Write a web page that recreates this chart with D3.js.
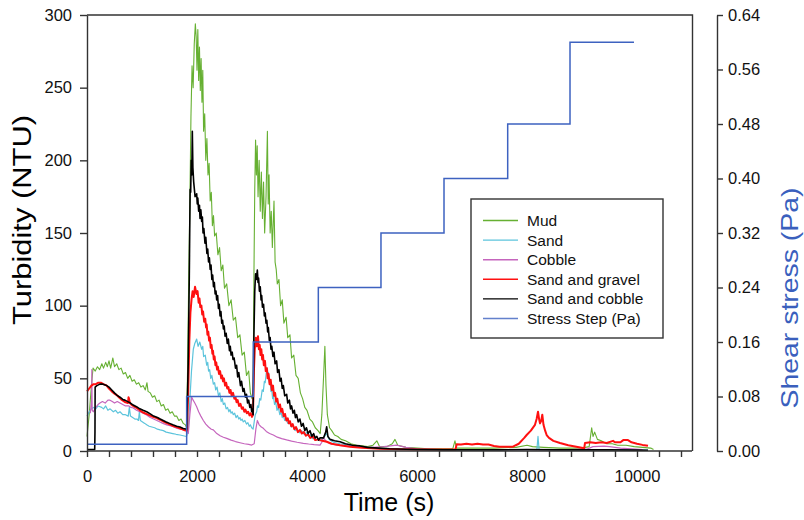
<!DOCTYPE html>
<html>
<head>
<meta charset="utf-8">
<script src="https://cdn.jsdelivr.net/npm/d3@7"></script>
<style>
  body { margin: 0; background: #fff; }
  text { font-family: "Liberation Sans", Arial, sans-serif; }
</style>
</head>
<body>
<svg id="chart" width="804" height="520"></svg>
<script>
// turbidity series, [time (s), NTU]
const mud = [[0,10],[40,25],[80,45],[110,57],[150,55],[190,58],[230,56],[270,60],[300,57],[340,61],[370,58],[400,62],[430,57],[470,64],[500,58],[540,60],[580,56],[620,57],[660,53],[700,54],[740,50],[780,52],[820,48],[860,49],[900,46],[940,47],[980,44],[1020,45],[1060,42],[1090,47],[1110,41],[1150,40],[1190,37],[1230,38],[1270,34],[1310,35],[1350,31],[1390,32],[1430,28],[1470,29],[1510,26],[1550,27],[1590,24],[1630,24],[1670,21],[1710,22],[1750,19],[1790,18],[1812,16],
  [1830,60],[1850,120],[1870,170],[1890,230],[1910,265],[1930,250],[1950,280],[1970,294],[1985,285],[2000,262],[2015,290],[2030,255],[2045,278],[2060,248],[2075,270],[2090,240],[2105,262],[2120,220],[2140,232],[2160,200],[2180,215],[2200,190],[2220,198],[2240,172],[2260,178],[2280,155],[2300,162],[2320,148],[2350,150],[2380,135],[2410,140],[2440,124],[2470,128],[2500,112],[2540,115],[2580,100],[2620,104],[2660,90],[2700,92],[2740,78],[2780,80],[2820,66],[2860,68],[2900,52],[2940,55],[2970,40],[3000,36],[3020,38],
  [3035,120],[3050,180],[3065,214],[3080,190],[3095,210],[3110,175],[3130,200],[3150,165],[3170,192],[3190,160],[3210,185],[3230,150],[3255,175],[3280,220],[3295,170],[3310,190],[3330,150],[3350,165],[3370,140],[3400,172],[3420,130],[3440,125],[3460,115],[3490,118],[3520,100],[3550,104],[3580,88],[3620,92],[3650,78],[3690,80],[3720,64],[3760,66],[3800,52],[3840,50],[3880,40],[3920,36],[3960,30],[4000,28],[4050,22],[4100,20],[4150,16],[4200,14],[4240,12],[4270,25],[4300,50],[4325,72],[4345,45],[4370,25],[4410,16],[4450,14],[4500,11],[4560,10],[4620,8],[4700,7],[4800,5],[4900,4],[5000,3.5],[5100,3],[5200,4],[5270,7],[5320,3],[5450,3],[5550,5],[5600,8],[5650,4],[5800,2.5],[6000,2],[6200,1.5],[6400,1.5],[6650,1.5],[6690,7],[6720,2],[7000,2],[7400,2],[7800,2.5],[8000,4],[8100,3],[8300,2.5],[8600,2],[9000,2],[9130,3],[9176,16],[9200,10],[9230,13],[9280,8],[9350,7],[9450,5],[9550,5],[9650,4],[9800,4],[9950,3],[10100,2.5],[10250,2],[10300,1]];

const sand = [[0,24],[40,27],[80,29],[115,30],[160,29],[200,31],[267,30],[300,29],[340,31],[380,28],[420,29],[479,27],[520,28],[560,26],[600,27],[650,25],[700,25],[750,24],[770,30],[790,24],[830,23],[870,22],[910,22],[935,21],[952,27],[970,21],[1010,20],[1050,19],[1085,18],[1130,17],[1180,16.5],[1230,16],[1280,15],[1330,14.5],[1388,14],[1440,13],[1500,12.5],[1560,12],[1620,11.5],[1690,11],[1750,10.5],[1810,10],
  [1842,15],[1870,35],[1900,55],[1933,70],[1960,74],[1994,77],[2020,72],[2050,75],[2085,70],[2105,72],[2120,65],[2150,66],[2176,59],[2195,61],[2210,55],[2230,56],[2250,50],[2270,52],[2297,46],[2320,47],[2340,42],[2365,44],[2390,38],[2415,40],[2440,34],[2460,36],[2479,32],[2505,33],[2530,29],[2555,30],[2580,27],[2600,28.5],[2620,26],[2640,27],[2660,25],[2685,26],[2710,23],[2735,24.5],[2760,22],[2780,23],[2800,21],[2820,22],[2842,20],[2870,21],[2900,18.5],[2925,19.5],[2950,17],[2970,18],[2994,16],[3020,15],
  [3040,20],[3060,25],[3085,27],[3100,31],[3120,30],[3140,36],[3160,35],[3185,42],[3206,41],[3225,48],[3240,47],[3260,54],[3279,57],[3290,52],[3300,54],[3315,47],[3330,48],[3345,41],[3360,42],[3375,36],[3388,38],[3410,32],[3430,34],[3455,28],[3480,30],[3505,25],[3530,26.5],[3550,23],[3570,24.5],[3595,21],[3620,22],[3650,19],[3680,20],[3715,16.5],[3751,17.5],[3785,14],[3820,15.5],[3860,12.5],[3900,14],[3950,11.5],[3994,12.8],[4030,10],[4060,11],[4100,8.5],[4130,9.5],[4170,7.5],[4200,8.5],[4236,7],[4300,9],[4358,12],[4400,8],[4480,6],[4600,5],[4750,4],[4900,3],[5050,2.5],[5200,2],[5400,1.5],[5700,1.2],[6000,1],[6500,0.8],[7000,0.8],[7500,0.8],[8000,1],[8180,1],[8200,10],[8220,1],[8600,0.8],[9000,0.8],[9500,1],[10000,0.8],[10200,0.6]];

const cobble = [[60,26],[85,35],[88,56],[92,35],[95,28],[115,27],[160,30],[200,32],[236,33],[280,34],[330,33],[380,35],[418,35],[460,34],[500,33],[550,34],[600,33],[650,32],[700,31],[760,31],[800,30],[842,29.6],[900,28],[960,27],[1020,26],[1085,24.8],[1150,23],[1210,22],[1270,21],[1327,20],[1380,19],[1450,18],[1510,17.5],[1570,16.7],[1640,15.5],[1700,15],[1760,14.5],[1812,14],
  [1842,12],[1870,25],[1903,37],[1930,35],[1960,33],[1994,30.5],[2030,27],[2070,24],[2115,21],[2160,18.5],[2210,16.5],[2260,15],[2297,14.5],[2360,12],[2420,10.5],[2480,9.5],[2540,8.7],[2620,7.5],[2700,6.5],[2782,5.7],[2860,5],[2940,4.5],[2994,4.1],[3040,5],[3070,15],[3097,21],[3130,18],[3170,16.5],[3206,15.6],[3260,13.5],[3320,12],[3388,11],[3460,9.5],[3540,8.5],[3630,7.6],[3720,6.8],[3820,6],[3933,5.3],[4030,4.8],[4130,4.4],[4236,4.1],[4270,6],[4297,9.4],[4340,7],[4418,5],[4550,4],[4700,3.5],[4850,3],[5000,2.5],[5200,2.5],[5400,3],[5630,4],[5800,2.5],[6000,1.5],[6400,1],[6800,1],[7200,1],[7600,1],[8000,1],[8400,1],[8800,1],[9100,1.5],[9200,3],[9400,3.4],[9500,3],[9700,2],[9900,1.5],[10100,1]];

const sandGravel = [[0,41],[40,43],[80,45],[120,46],[160,46],[206,47],[250,47],[300,46],[358,45],[400,43],[450,41],[500,39.5],[540,38.5],[580,37],[620,35.5],[660,34.5],[700,33.5],[745,33],[755,37],[764,36],[780,33],[820,31.5],[860,30.5],[903,29.6],[960,28],[1020,26.5],[1080,25.5],[1140,24.5],[1200,23.5],[1267,22.7],[1330,21.5],[1400,20],[1460,19],[1520,18],[1580,17],[1630,16.5],[1700,15.5],[1760,14.5],[1818,14],
  [1840,40],[1860,75],[1880,95],[1900,104],[1920,110],[1940,106],[1964,113],[1990,108],[2010,110],[2030,102],[2045,105],[2060,99],[2080,100],[2095,94],[2110,96],[2130,89],[2150,91],[2165,85],[2176,87],[2190,80],[2205,82],[2220,76],[2235,78],[2250,71],[2265,73],[2280,67],[2291,69],[2305,63],[2320,65],[2335,59],[2350,61],[2365,56],[2380,58],[2400,53],[2420,55],[2440,50],[2455,52],[2473,48],[2490,50],[2510,45],[2530,47],[2550,43],[2570,44],[2590,40],[2610,42],[2630,38],[2655,40],[2680,36],[2700,37],[2720,33.5],[2740,35],[2765,31],[2790,32.5],[2815,29],[2836,30],[2860,27],[2880,28.5],[2905,26],[2930,27],[2955,24.5],[2975,26],[3000,23.5],[3018,25],
  [3035,55],[3050,70],[3070,78],[3090,72],[3109,79],[3125,70],[3140,73],[3155,66],[3170,70],[3185,63],[3200,66],[3215,59],[3236,62],[3250,55],[3270,57],[3285,50],[3300,53],[3320,46],[3340,49],[3360,42],[3382,45],[3400,38],[3420,40],[3440,34],[3460,36],[3485,30],[3509,32],[3530,27],[3550,29],[3575,24],[3600,25.5],[3625,21],[3650,22.5],[3670,19],[3690,20.5],[3715,17],[3740,18.5],[3770,15],[3800,16.5],[3835,13],[3873,14.5],[3905,12],[3940,13],[3980,10.5],[4020,11.5],[4060,9],[4109,10],[4150,7.5],[4200,8],[4280,7],[4358,6.4],[4450,5],[4600,4],[4780,3],[5000,2.3],[5330,1.5],[5700,1.2],[6000,1],[6400,1],[6700,1],[6721,4.6],[6800,4.5],[6900,5],[7000,4.5],[7100,5],[7200,4.5],[7300,4.5],[7400,3.5],[7500,3],[7745,3],[7850,5],[7950,9],[7994,11],[8070,14],[8145,18],[8175,22],[8200,27],[8220,22],[8236,19],[8260,21],[8278,25],[8300,18],[8330,14],[8357,11],[8400,9],[8480,7],[8600,5.5],[8750,4],[9018,2],[9040,2],[9055,5.5],[9150,6],[9250,5.5],[9350,6],[9450,5.5],[9564,7],[9600,6],[9700,6],[9750,7.5],[9836,7.5],[9900,6],[10000,5],[10100,4.2],[10200,3.6]];

const sandCobble = [[0,1],[60,1],[140,1],[145,13],[148,44],[180,45],[236,46],[290,46],[358,45],[400,44],[450,42],[500,40],[540,38.5],[600,37],[650,35.5],[690,35],[740,34],[790,33],[840,31.6],[900,30.5],[960,29],[1020,28],[1085,27],[1150,25.5],[1210,24],[1280,23],[1330,22],[1385,21],[1440,20],[1500,19],[1560,18],[1630,17],[1690,16.5],[1750,15.5],[1812,15],
  [1840,60],[1860,120],[1875,180],[1885,178],[1895,200],[1905,190],[1915,220],[1925,195],[1940,185],[1965,175],[1994,177],[2005,170],[2015,174],[2030,165],[2045,169],[2055,160],[2070,166],[2085,158],[2098,161],[2110,150],[2125,153],[2145,143],[2160,147],[2180,136],[2195,139],[2210,130],[2225,133],[2240,125],[2255,128],[2270,118],[2285,121],[2300,113],[2315,116],[2330,108],[2345,110],[2358,104],[2375,107],[2390,98],[2405,101],[2420,93],[2435,96],[2450,88],[2465,90],[2480,84],[2495,86],[2510,79],[2530,81],[2550,74],[2570,77],[2590,69],[2605,72],[2620,66],[2640,68],[2655,63],[2675,64],[2700,57],[2720,59],[2740,51],[2760,54],[2790,45],[2810,48],[2836,41],[2855,43],[2880,37],[2900,39],[2920,33],[2940,35],[2960,30],[2980,32],[2994,27],[3010,29],[3020,25],
  [3035,80],[3050,110],[3065,122],[3080,118],[3097,124.5],[3110,116],[3120,119],[3135,110],[3150,113],[3165,104],[3176,107],[3190,99],[3210,101],[3225,93],[3240,95],[3255,88],[3270,90],[3285,82],[3297,85],[3315,76],[3330,78],[3345,70],[3360,72],[3380,65],[3400,68],[3420,60],[3448,62],[3465,54],[3490,56],[3510,48],[3530,50],[3550,43],[3570,45],[3595,38],[3630,39],[3650,33],[3680,35],[3700,29],[3720,31],[3745,26],[3770,28],[3790,23],[3812,25],[3840,20],[3870,22],[3900,17],[3930,19],[3960,14],[3990,16],[4020,12],[4055,14],[4090,10],[4120,12],[4150,9],[4180,10],[4210,7.5],[4236,9],[4300,9],[4340,13],[4358,16.7],[4380,10],[4420,8],[4500,7],[4600,6.4],[4700,5],[4830,4],[4963,3.5],[5100,2.5],[5300,2],[5500,1.5],[5800,1.2],[6000,1],[6500,0.8],[7000,0.8],[7500,0.8],[8000,1],[8500,0.8],[9000,0.8],[9500,0.8],[10000,0.6],[10200,0.5]];

// stress steps (Pa)
const stepTimes = [0, 1812, 3024, 4206, 5345, 6491, 7649, 8782, 9945];
const stepValues = [0.01, 0.08, 0.16, 0.24, 0.32, 0.40, 0.48, 0.60];

const yTicks = [0, 50, 100, 150, 200, 250, 300];
const y2Ticks = [0, 0.08, 0.16, 0.24, 0.32, 0.40, 0.48, 0.56, 0.64];
const xLabelTicks = [0, 2000, 4000, 6000, 8000, 10000];

const seriesNames = ["Mud", "Sand", "Cobble", "Sand and gravel", "Sand and cobble", "Stress Step (Pa)"];
const seriesColors = ["#66b032", "#5cc4dc", "#c565bd", "#ff1010", "#000000", "#3d62c0"];

const svg = d3.select("#chart");
const x = d3.scaleLinear().domain([0, 11000]).range([87, 692]);
const y = d3.scaleLinear().domain([0, 300]).range([451, 15]);
const y2 = d3.scaleLinear().domain([0, 0.64]).range([451, 15]);

const line = d3.line().x(d => x(d[0])).y(d => y(d[1]));
const widths = [1.1, 1.2, 1.2, 2, 1.6];
[mud, sand, cobble, sandGravel, sandCobble].forEach((s, i) => {
    svg.append("path").attr("d", line(s)).attr("fill", "none")
        .attr("stroke", seriesColors[i]).attr("stroke-width", widths[i]).attr("stroke-linejoin", "round");
});

const steps = stepValues.map((v, i) => [stepTimes[i], v]).concat([[stepTimes[stepTimes.length - 1], stepValues[stepValues.length - 1]]]);
svg.append("path")
    .attr("d", d3.line().curve(d3.curveStepAfter).x(d => x(d[0])).y(d => y2(d[1]))(steps))
    .attr("fill", "none").attr("stroke", seriesColors[5]).attr("stroke-width", 1.5);

// axes
const axisColor = "#333";
const gx = svg.append("g").attr("transform", "translate(0,451)")
    .call(d3.axisBottom(x).tickValues(d3.range(0, 10801, 400)).tickSize(6).tickSizeOuter(0).tickPadding(13)
        .tickFormat(d => xLabelTicks.includes(d) ? d : ""));
const gy = svg.append("g").attr("transform", "translate(87,0)")
    .call(d3.axisLeft(y).tickValues(yTicks).tickSize(7).tickSizeOuter(0).tickPadding(8));
const gy2 = svg.append("g").attr("transform", "translate(717,0)")
    .call(d3.axisRight(y2).tickValues(y2Ticks).tickSize(6).tickSizeOuter(0).tickPadding(5).tickFormat(d3.format(".2f")));
[gx, gy, gy2].forEach(g => {
    g.selectAll("path, line").attr("stroke", axisColor).attr("stroke-width", 1.4);
    g.selectAll("text").attr("font-size", 16.5).attr("fill", "#111").attr("font-family", "Liberation Sans, Arial, sans-serif");
});
gx.select(".domain").attr("d", "M87,0H692");

// frame top and right
svg.append("path").attr("d", "M87,15H692.5V451").attr("fill", "none").attr("stroke", axisColor).attr("stroke-width", 1.4);

// titles
svg.append("text").attr("x", 389).attr("y", 511).attr("text-anchor", "middle").attr("font-size", 25).text("Time (s)");
svg.append("text").attr("transform", "translate(31,220) rotate(-90)").attr("text-anchor", "middle")
    .attr("font-size", 26).attr("textLength", 210).attr("lengthAdjust", "spacingAndGlyphs").text("Turbidity (NTU)");
svg.append("text").attr("transform", "translate(798,298) rotate(-90)").attr("text-anchor", "middle")
    .attr("font-size", 24).attr("fill", "#3a5fbd").attr("textLength", 221).attr("lengthAdjust", "spacingAndGlyphs").text("Shear stress (Pa)");

// legend
const legend = svg.append("g");
legend.append("rect").attr("x", 471).attr("y", 199).attr("width", 192).attr("height", 139)
    .attr("fill", "#fff").attr("stroke", axisColor).attr("stroke-width", 1.4);
seriesNames.forEach((name, i) => {
    const yy = 220.5 + i * 19.6;
    legend.append("line").attr("x1", 483).attr("x2", 518).attr("y1", yy).attr("y2", yy)
        .attr("stroke", seriesColors[i]).attr("stroke-width", i === 3 ? 1.6 : 1.4).attr("opacity", i === 5 ? 0.8 : 1);
    legend.append("text").attr("x", 527).attr("y", yy).attr("dy", "0.35em").attr("font-size", 15.5).attr("fill", "#111").text(name);
});
</script>
</body>
</html>
